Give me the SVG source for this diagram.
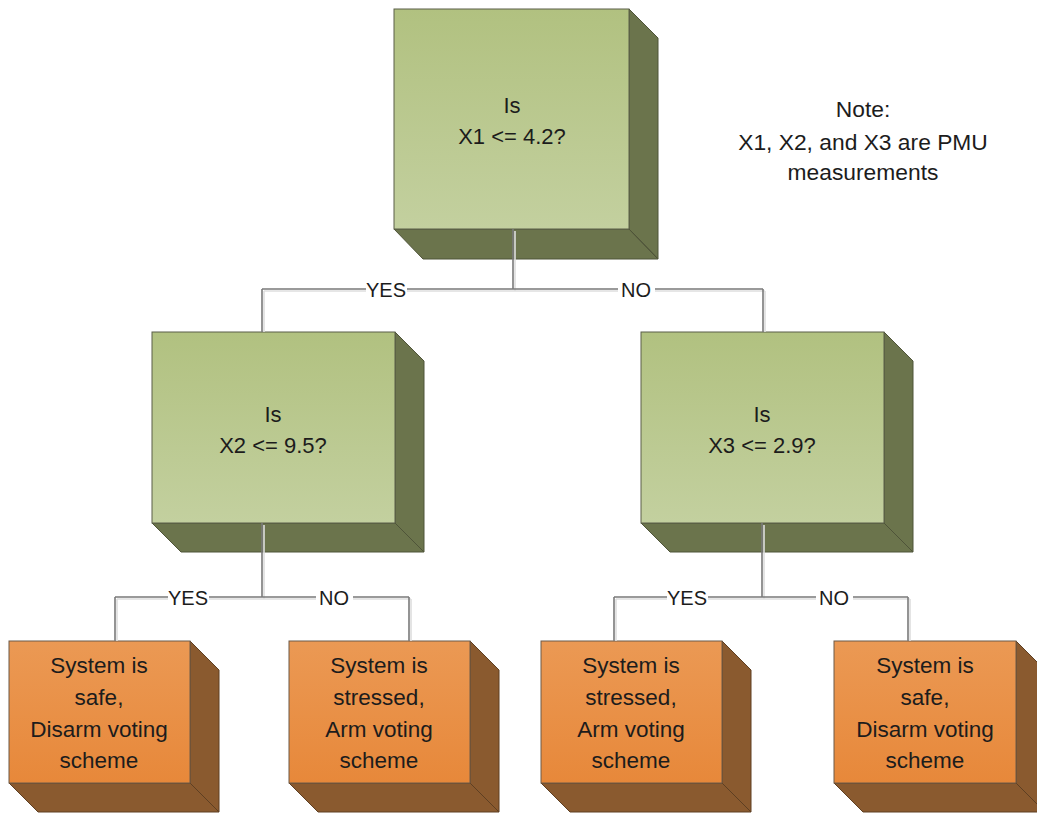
<svg xmlns="http://www.w3.org/2000/svg" width="1037" height="813" viewBox="0 0 1037 813">
  <defs>
    <linearGradient id="gFront" x1="0" y1="0" x2="0" y2="1">
      <stop offset="0" stop-color="#b1c180"/>
      <stop offset="1" stop-color="#c3d09f"/>
    </linearGradient>
    <linearGradient id="oFront" x1="0" y1="0" x2="0" y2="1">
      <stop offset="0" stop-color="#eb9954"/>
      <stop offset="1" stop-color="#e7883a"/>
    </linearGradient>
    <style>
      .gf { fill: url(#gFront); stroke: #5a5f48; stroke-width: 1; }
      .gs { fill: #6b744c; stroke: #4f5439; stroke-width: 1; }
      .of { fill: url(#oFront); stroke: #6d5a48; stroke-width: 1; }
      .os { fill: #8a5a2f; stroke: #5e3f22; stroke-width: 1; }
      text { font-family: "Liberation Sans", Arial, sans-serif; fill: #1c1c1c; text-anchor: middle; }
      .q { font-size: 22px; }
      .leaf { font-size: 22.5px; }
      .lbl { font-size: 20px; }
      .note { font-size: 22.8px; }
      .wire { fill: none; stroke: #7a7a7a; stroke-width: 1.6; }
      .wire-sh { fill: none; stroke: #dedede; stroke-width: 1.6; }
      .lblbg { fill: #ffffff; }
    </style>
  </defs>

  <rect width="1037" height="813" fill="#ffffff"/>

  <!-- Root decision box -->
  <g id="node-root">
    <polygon class="gs" points="629,9 658,38 658,259 629,229"/>
    <polygon class="gs" points="394,229 629,229 658,259 423,259"/>
    <line x1="629" y1="229" x2="658" y2="259" stroke="#4f5439" stroke-width="1"/>
    <rect class="gf" x="394" y="9" width="235" height="220"/>
    <text class="q" x="512" y="113">Is</text>
    <text class="q" x="512" y="144">X1 &lt;= 4.2?</text>
  </g>

  <!-- Left decision box -->
  <g id="node-x2">
    <polygon class="gs" points="395,332 424,361 424,552 395,523"/>
    <polygon class="gs" points="152,523 395,523 424,552 181,552"/>
    <line x1="395" y1="523" x2="424" y2="552" stroke="#4f5439" stroke-width="1"/>
    <rect class="gf" x="152" y="332" width="243" height="191"/>
    <text class="q" x="273" y="422">Is</text>
    <text class="q" x="273" y="453">X2 &lt;= 9.5?</text>
  </g>

  <!-- Right decision box -->
  <g id="node-x3">
    <polygon class="gs" points="884,332 913,361 913,552 884,523"/>
    <polygon class="gs" points="641,523 884,523 913,552 670,552"/>
    <line x1="884" y1="523" x2="913" y2="552" stroke="#4f5439" stroke-width="1"/>
    <rect class="gf" x="641" y="332" width="243" height="191"/>
    <text class="q" x="762" y="422">Is</text>
    <text class="q" x="762" y="453">X3 &lt;= 2.9?</text>
  </g>

  <!-- Leaf outcomes -->
  <g id="leaf-1">
    <polygon class="os" points="190,641 219,670 219,812 190,783"/>
    <polygon class="os" points="9,783 190,783 219,812 38,812"/>
    <line x1="190" y1="783" x2="219" y2="812" stroke="#5e3f22" stroke-width="1"/>
    <rect class="of" x="9" y="641" width="181" height="142"/>
    <text class="leaf" x="99" y="673">System is</text>
    <text class="leaf" x="99" y="705">safe,</text>
    <text class="leaf" x="99" y="737">Disarm voting</text>
    <text class="leaf" x="99" y="768">scheme</text>
  </g>

  <g id="leaf-2">
    <polygon class="os" points="470,641 499,670 499,812 470,783"/>
    <polygon class="os" points="289,783 470,783 499,812 318,812"/>
    <line x1="470" y1="783" x2="499" y2="812" stroke="#5e3f22" stroke-width="1"/>
    <rect class="of" x="289" y="641" width="181" height="142"/>
    <text class="leaf" x="379" y="673">System is</text>
    <text class="leaf" x="379" y="705">stressed,</text>
    <text class="leaf" x="379" y="737">Arm voting</text>
    <text class="leaf" x="379" y="768">scheme</text>
  </g>

  <g id="leaf-3">
    <polygon class="os" points="722,641 751,670 751,812 722,783"/>
    <polygon class="os" points="541,783 722,783 751,812 570,812"/>
    <line x1="722" y1="783" x2="751" y2="812" stroke="#5e3f22" stroke-width="1"/>
    <rect class="of" x="541" y="641" width="181" height="142"/>
    <text class="leaf" x="631" y="673">System is</text>
    <text class="leaf" x="631" y="705">stressed,</text>
    <text class="leaf" x="631" y="737">Arm voting</text>
    <text class="leaf" x="631" y="768">scheme</text>
  </g>

  <g id="leaf-4">
    <polygon class="os" points="1016,641 1045,670 1045,812 1016,783"/>
    <polygon class="os" points="834,783 1016,783 1045,812 863,812"/>
    <line x1="1016" y1="783" x2="1045" y2="812" stroke="#5e3f22" stroke-width="1"/>
    <rect class="of" x="834" y="641" width="182" height="142"/>
    <text class="leaf" x="925" y="673">System is</text>
    <text class="leaf" x="925" y="705">safe,</text>
    <text class="leaf" x="925" y="737">Disarm voting</text>
    <text class="leaf" x="925" y="768">scheme</text>
  </g>

  <!-- Connectors: faint offset shadow, then the line, then label backgrounds -->
  <g id="connectors">
    <g transform="translate(2,2)">
      <path class="wire-sh" d="M513,229 V289 M262,289 H763 M262,289 V330 M763,289 V330"/>
      <path class="wire-sh" d="M262,523 V597 M115,597 H409 M115,597 V639 M409,597 V639"/>
      <path class="wire-sh" d="M762,523 V597 M614,597 H908 M614,597 V639 M908,597 V639"/>
    </g>
    <path class="wire" d="M513,229 V289 M262,289 H763 M262,289 V332 M763,289 V332"/>
    <path class="wire" d="M262,523 V597 M115,597 H409 M115,597 V641 M409,597 V641"/>
    <path class="wire" d="M762,523 V597 M614,597 H908 M614,597 V641 M908,597 V641"/>

    <rect class="lblbg" x="366" y="279" width="41" height="20"/>
    <text class="lbl" x="386" y="297">YES</text>
    <rect class="lblbg" x="618" y="279" width="37" height="20"/>
    <text class="lbl" x="636" y="297">NO</text>

    <rect class="lblbg" x="168" y="587" width="41" height="20"/>
    <text class="lbl" x="188" y="605">YES</text>
    <rect class="lblbg" x="316" y="587" width="37" height="20"/>
    <text class="lbl" x="334" y="605">NO</text>

    <rect class="lblbg" x="667" y="587" width="41" height="20"/>
    <text class="lbl" x="687" y="605">YES</text>
    <rect class="lblbg" x="816" y="587" width="37" height="20"/>
    <text class="lbl" x="834" y="605">NO</text>
  </g>

  <!-- Annotation -->
  <g id="note">
    <text class="note" x="863" y="117">Note:</text>
    <text class="note" x="863" y="150">X1, X2, and X3 are PMU</text>
    <text class="note" x="863" y="180">measurements</text>
  </g>
</svg>
